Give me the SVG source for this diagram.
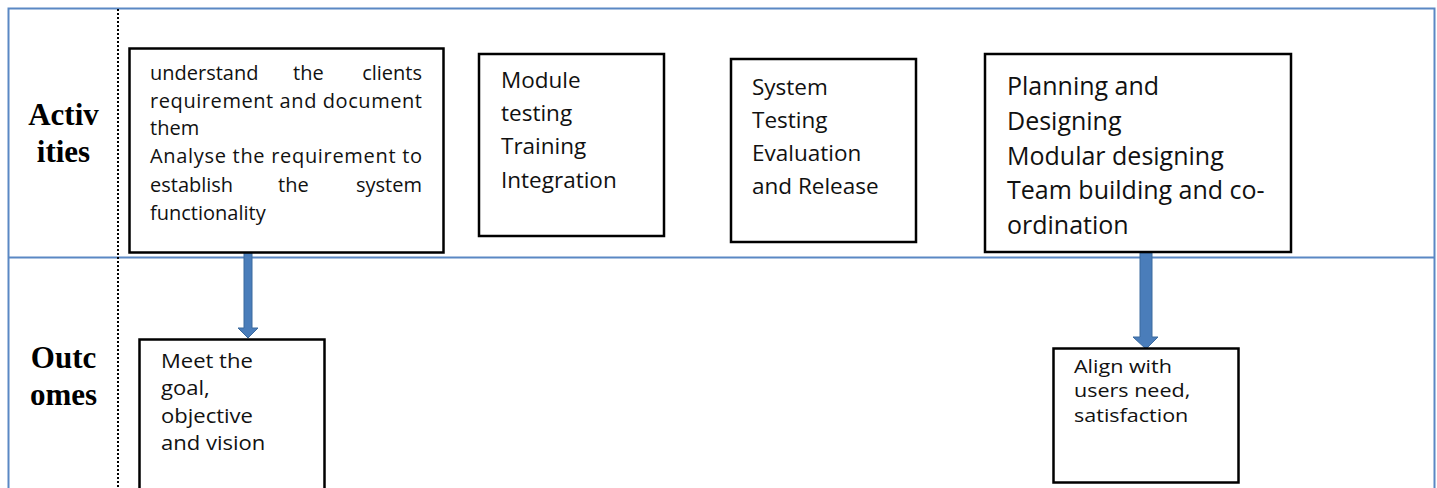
<svg xmlns="http://www.w3.org/2000/svg" width="1437" height="488" viewBox="0 0 1437 488">
  <style>
    .frame { fill: none; stroke: #5A88C4; stroke-width: 2; }
    .sep { stroke: #000; stroke-width: 2; stroke-dasharray: 2 2; }
    .box { fill: #fff; stroke: #000; stroke-width: 2.5; }
    .lane { font-family: "Liberation Serif", "Times New Roman", serif; font-weight: bold; font-size: 31px; fill: #000; text-anchor: middle; }
    .txt { font-family: "Open Sans", "Noto Sans", sans-serif; fill: #111; }
    .arrow { fill: #4A7DBA; stroke: #3B6A9E; stroke-width: 1; }
  </style>
  <rect width="1437" height="488" fill="#fff"/>

  <!-- swimlane frame -->
  <g id="frame">
    <path class="frame" d="M8.5,488 V8.5 H1434.5 V488"/>
    <line class="frame" x1="8.5" y1="257.5" x2="1434.5" y2="257.5"/>
    <line class="sep" x1="118" y1="9" x2="118" y2="488"/>
  </g>

  <!-- lane headings -->
  <g id="lane-activities">
    <text class="lane" x="63.5" y="125">Activ</text>
    <text class="lane" x="63.5" y="162">ities</text>
  </g>
  <g id="lane-outcomes">
    <text class="lane" x="63.5" y="368">Outc</text>
    <text class="lane" x="63.5" y="405">omes</text>
  </g>

  <!-- connectors -->
  <g id="connectors">
    <path class="arrow" d="M244,248 H252 V328 H258 L248,338 L238,328 H244 Z"/>
    <path class="arrow" d="M1140,253 H1152 V337 H1158 L1146,349 L1133,337 H1140 Z"/>
  </g>

  <!-- activity boxes -->
  <g id="requirements">
    <rect class="box" x="129.5" y="48.5" width="314" height="204" stroke-width="3"/>
    <g class="txt" font-size="20">
      <text x="150" y="80">understand</text>
      <text x="293" y="80">the</text>
      <text x="422" y="80" text-anchor="end">clients</text>
      <text x="150" y="107.5" textLength="272" lengthAdjust="spacing">requirement and document</text>
      <text x="150" y="135">them</text>
      <text x="150" y="163" textLength="272" lengthAdjust="spacing">Analyse the requirement to</text>
      <text x="150" y="191.5">establish</text>
      <text x="278" y="191.5">the</text>
      <text x="422" y="191.5" text-anchor="end">system</text>
      <text x="150" y="220">functionality</text>
    </g>
  </g>

  <g id="module-testing">
    <rect class="box" x="479" y="54" width="185" height="182"/>
    <g class="txt" font-size="22.5">
      <text x="501" y="88">Module</text>
      <text x="501" y="121">testing</text>
      <text x="501" y="154">Training</text>
      <text x="501" y="188">Integration</text>
    </g>
  </g>

  <g id="system-testing">
    <rect class="box" x="731" y="59" width="185" height="183"/>
    <g class="txt" font-size="22.5">
      <text x="752" y="95">System</text>
      <text x="752" y="128">Testing</text>
      <text x="752" y="161">Evaluation</text>
      <text x="752" y="193.5">and Release</text>
    </g>
  </g>

  <g id="planning">
    <rect class="box" x="985" y="54" width="306" height="198"/>
    <g class="txt" font-size="25">
      <text x="1007" y="95">Planning and</text>
      <text x="1007" y="130">Designing</text>
      <text x="1007" y="165">Modular designing</text>
      <text x="1007" y="199">Team building and co-</text>
      <text x="1007" y="234">ordination</text>
    </g>
  </g>

  <!-- outcome boxes: wide lettering drawn with a horizontal stretch -->
  <g id="meet-goal">
    <rect class="box" x="139.5" y="339.5" width="185" height="160"/>
    <g class="txt" font-size="19.5" transform="translate(161,0) scale(1.13,1)">
      <text x="0" y="368">Meet the</text>
      <text x="0" y="395.5">goal,</text>
      <text x="0" y="423">objective</text>
      <text x="0" y="450.5">and vision</text>
    </g>
  </g>

  <g id="align-users">
    <rect class="box" x="1053.5" y="348.5" width="185" height="134"/>
    <g class="txt" font-size="17.5" transform="translate(1074,0) scale(1.23,1)">
      <text x="0" y="373">Align with</text>
      <text x="0" y="397.5">users need,</text>
      <text x="0" y="422">satisfaction</text>
    </g>
  </g>
</svg>
